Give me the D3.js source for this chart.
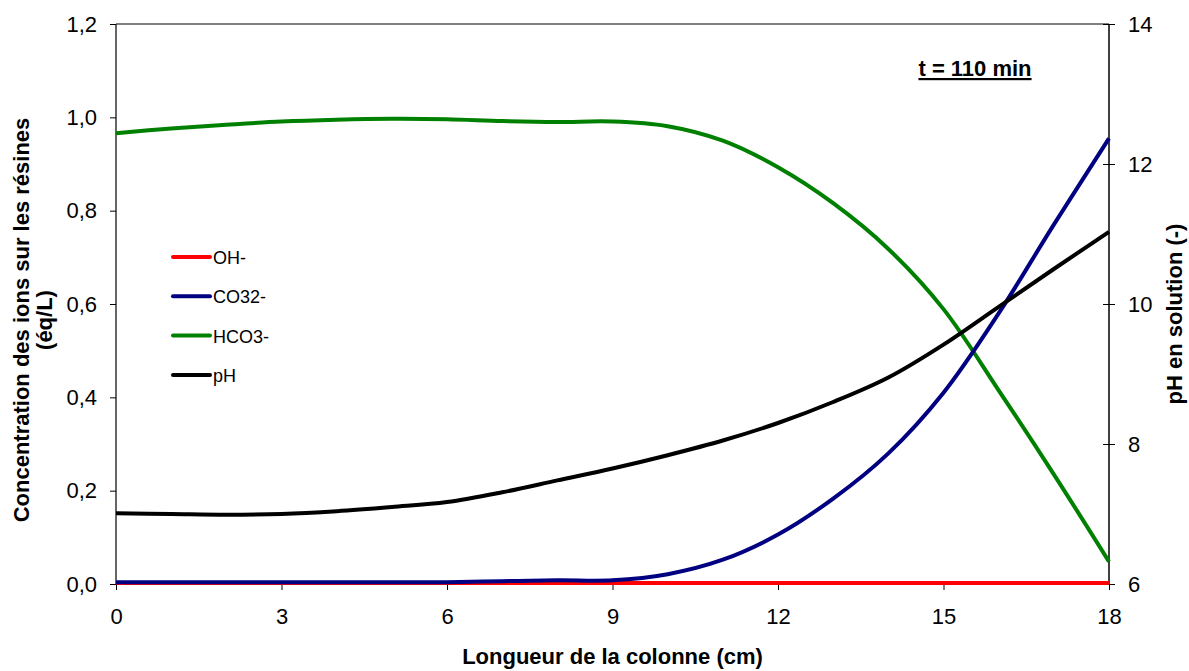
<!DOCTYPE html>
<html><head><meta charset="utf-8">
<script src="https://cdn.jsdelivr.net/npm/d3@7"></script>
<style>body{margin:0;background:#fff}svg text{font-family:Arial,"Liberation Sans",sans-serif}</style>
</head><body><svg id="c" width="1189" height="671"></svg>
<script>
const xs = [0,1,2,3,4,5,6,7,8,9,10,11,12,13,14,15,16,17,18];
const ohValues = [0.002,0.002,0.002,0.002,0.002,0.002,0.002,0.002,0.002,0.002,0.002,0.002,0.002,0.002,0.002,0.002,0.002,0.002,0.002];
const co3Values = [0.004,0.004,0.004,0.004,0.004,0.004,0.004,0.006,0.008,0.008,0.021,0.052,0.106,0.183,0.28,0.41,0.58,0.77,0.955];
const hco3Values = [0.966,0.976,0.984,0.991,0.995,0.997,0.996,0.992,0.990,0.991,0.981,0.950,0.893,0.816,0.718,0.589,0.415,0.235,0.048];
const phValues = [7.01,7.00,6.99,7.00,7.04,7.10,7.17,7.31,7.48,7.65,7.84,8.05,8.30,8.60,8.95,9.42,9.96,10.50,11.03];
const xTicks = [0,3,6,9,12,15,18];
const yLeftTicks = [0,0.2,0.4,0.6,0.8,1.0,1.2];
const yRightTicks = [6,8,10,12,14];
const seriesNames = ["OH-","CO32-","HCO3-","pH"];
const seriesColors = ["#ff0000","#000080","#008000","#000000"];

const svg = d3.select("#c");
const L=116,R=1109,T=24,B=584;
const x = d3.scaleLinear().domain([0,18]).range([L,R]);
const yL = d3.scaleLinear().domain([0,1.2]).range([B,T]);
const yR = d3.scaleLinear().domain([6,14]).range([B,T]);
const fmt = d3.format(".1f");
const comma = v => fmt(v).replace(".",",");

svg.append("line").attr("x1",L).attr("x2",R).attr("y1",T).attr("y2",T).attr("stroke","#808080").attr("stroke-width",2);

const ax = svg.append("g").attr("transform",`translate(0,${B})`)
  .call(d3.axisBottom(x).tickValues(xTicks).tickSize(6).tickPadding(18).tickFormat(d=>d));
const axL = svg.append("g").attr("transform",`translate(${L},0)`)
  .call(d3.axisLeft(yL).tickValues(yLeftTicks).tickSize(6).tickPadding(13).tickFormat(comma));
const axR = svg.append("g").attr("transform",`translate(${R},0)`)
  .call(d3.axisRight(yR).tickValues(yRightTicks).tickSize(6).tickPadding(13).tickFormat(d=>d));
axR.selectAll(".tick line").attr("x1",-6);
[ax,axL,axR].forEach(g=>{
  g.selectAll(".domain").attr("stroke","#333").attr("stroke-width",1.5);
  g.selectAll(".tick line").attr("stroke","#000");
  g.selectAll("text").attr("font-size",22).attr("fill","#000");
});
ax.selectAll(".domain").attr("d",`M${L},0H${R}`);
axL.selectAll(".domain").attr("d",`M0,${B}V${T}`);
axR.selectAll(".domain").attr("d",`M0,${B}V${T}`).attr("stroke","#000");

const data = [ohValues,co3Values,hco3Values,phValues];
const lineL = d3.line().x((d,i)=>x(xs[i])).y(d=>yL(d)).curve(d3.curveCatmullRom.alpha(0.5));
const lineR = d3.line().x((d,i)=>x(xs[i])).y(d=>yR(d)).curve(d3.curveCatmullRom.alpha(0.5));
const order=[0,2,1,3];
order.forEach(k=>{
  svg.append("path").datum(data[k]).attr("d", k===3?lineR:lineL)
    .attr("fill","none").attr("stroke",seriesColors[k]).attr("stroke-width",4)
    .attr("stroke-linejoin","round");
});

const leg = svg.append("g");
seriesNames.forEach((n,i)=>{
  const yy = 257 + i*39.3;
  leg.append("line").attr("x1",173).attr("x2",210).attr("y1",yy).attr("y2",yy)
    .attr("stroke",seriesColors[i]).attr("stroke-width",4).attr("stroke-linecap","round");
  leg.append("text").attr("x",213).attr("y",yy+7).attr("font-size",18).text(n);
});

svg.append("text").attr("x",(L+R)/2).attr("y",664).attr("text-anchor","middle")
  .attr("font-size",22).attr("font-weight","bold").text("Longueur de la colonne (cm)");
const lt = svg.append("text").attr("transform","translate(29,320) rotate(-90)")
  .attr("text-anchor","middle").attr("font-size",22).attr("font-weight","bold");
lt.append("tspan").attr("x",0).attr("y",0).text("Concentration des ions sur les résines");
lt.append("tspan").attr("x",0).attr("y",23).text("(éq/L)");
svg.append("text").attr("transform","translate(1182,314) rotate(-90)")
  .attr("text-anchor","middle").attr("font-size",22).attr("font-weight","bold").text("pH en solution (-)");
svg.append("text").attr("x",975).attr("y",76).attr("text-anchor","middle")
  .attr("font-size",22).attr("font-weight","bold").attr("text-decoration","underline").text("t = 110 min");
</script></body></html>
